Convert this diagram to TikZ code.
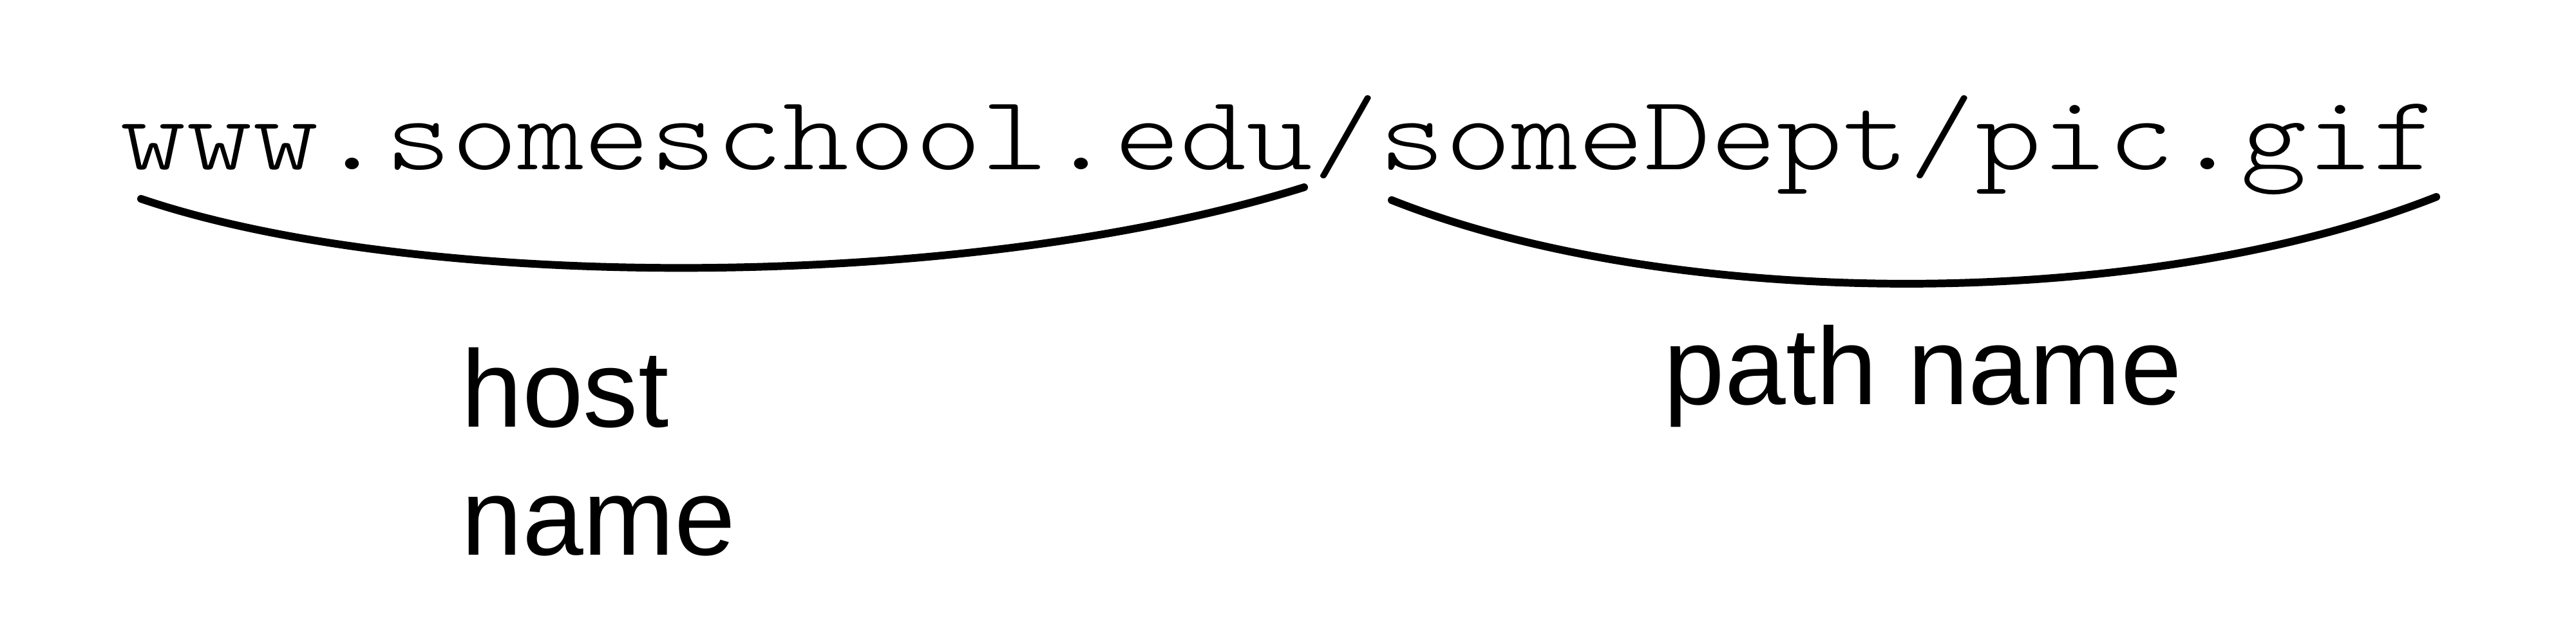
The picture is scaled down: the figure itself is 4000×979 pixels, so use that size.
\documentclass[tikz,border=0pt]{standalone}
\usepackage{graphicx}
\usepackage{fontspec}
\setmainfont{Liberation Sans}
\newfontfamily\urlmono{Latin Modern Mono Light}
\begin{document}
\begin{tikzpicture}[x=0.01cm,y=-0.01cm,
  urltext/.style={inner sep=0pt,font=\urlmono\fontsize{46.95}{56}\selectfont},
  label/.style={inner sep=0pt,font=\fontsize{48.4}{56.6}\selectfont},
  brace/.style={line width=3.4pt,line cap=round}]
\useasboundingbox (0,0) rectangle (4000,979);
\node[urltext,anchor=base west] (url) at (186,263) {\scalebox{1.187}[1]{www.someschool.edu/someDept/pic.gif}};
\coordinate (l1) at (219,309);
\coordinate (l2) at (2025,291);
\coordinate (r1) at (2161,311);
\coordinate (r2) at (3783,306);
\draw[brace] (l1) .. controls (650,455) and (1500,455) .. (l2);
\draw[brace] (r1) .. controls (2600,485) and (3330,485) .. (r2);
\node[label,anchor=base west] (host) at (716,663) {\vtop{\baselineskip=56.6pt\hbox{host}\hbox{name}}};
\node[label,anchor=base west] (path) at (2583,628) {path name};
\end{tikzpicture}
\end{document}
